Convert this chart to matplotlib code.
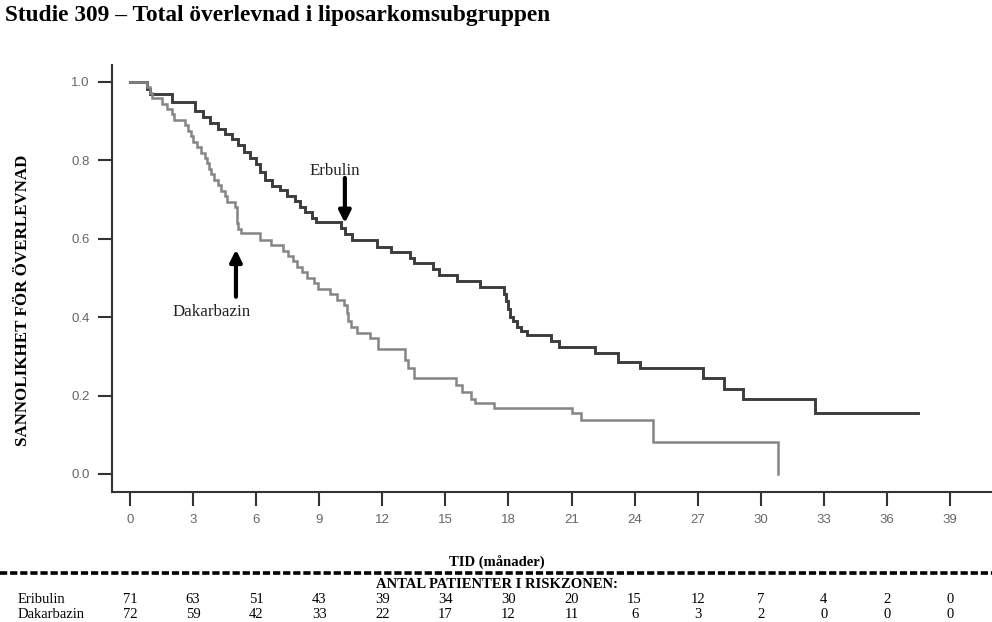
import matplotlib
matplotlib.use("Agg")
import matplotlib.pyplot as plt
from matplotlib.lines import Line2D
import matplotlib.transforms as mtransforms

# ---------------- data ----------------
erb_t = [0, 0.81, 0.95, 2.0, 3.09, 3.47, 3.80, 4.18, 4.52, 4.85, 5.14, 5.42, 5.71, 5.99,
         6.18, 6.42, 6.75, 7.13, 7.47, 7.85, 8.08, 8.32, 8.65, 8.84, 10.03, 10.22, 10.56,
         11.75, 12.41, 13.30, 13.50, 14.40, 14.69, 15.55, 16.64, 17.78, 17.88, 17.97, 18.07,
         18.21, 18.40, 18.59, 18.88, 20.02, 20.40, 22.11, 23.20, 24.25, 27.25, 28.25, 29.15,
         32.57, 37.47]
erb_s = [1.0, 0.982, 0.968, 0.948, 0.925, 0.910, 0.895, 0.880, 0.868, 0.855, 0.840, 0.820,
         0.805, 0.790, 0.770, 0.750, 0.735, 0.725, 0.710, 0.695, 0.680, 0.668, 0.653, 0.643,
         0.628, 0.612, 0.597, 0.580, 0.565, 0.552, 0.538, 0.522, 0.507, 0.493, 0.477, 0.460,
         0.440, 0.420, 0.400, 0.390, 0.375, 0.365, 0.355, 0.340, 0.325, 0.309, 0.286, 0.270,
         0.245, 0.217, 0.191, 0.155, 0.155]

dak_t = [0, 0.81, 0.95, 1.05, 1.5, 1.75, 2.0, 2.1, 2.62, 2.75, 2.9, 3.0, 3.2, 3.4, 3.55,
         3.65, 3.75, 3.85, 4.0, 4.2, 4.35, 4.5, 4.6, 5.0, 5.1, 5.15, 5.3, 6.18, 6.7, 7.3,
         7.5, 7.75, 7.95, 8.2, 8.4, 8.75, 8.95, 9.5, 9.85, 10.2, 10.3, 10.35, 10.5, 10.8,
         11.4, 11.8, 13.1, 13.2, 13.5, 15.5, 15.8, 16.2, 16.4, 17.3, 21.0, 21.45, 24.87,
         30.8]
dak_s = [1.0, 0.986, 0.972, 0.958, 0.944, 0.930, 0.917, 0.903, 0.889, 0.875, 0.861, 0.847,
         0.833, 0.819, 0.806, 0.792, 0.778, 0.764, 0.750, 0.736, 0.722, 0.708, 0.694, 0.680,
         0.639, 0.625, 0.615, 0.597, 0.583, 0.569, 0.556, 0.542, 0.528, 0.514, 0.500, 0.486,
         0.472, 0.458, 0.444, 0.430, 0.410, 0.390, 0.375, 0.360, 0.347, 0.319, 0.290, 0.270,
         0.245, 0.228, 0.210, 0.190, 0.182, 0.168, 0.155, 0.138, 0.082, 0.0]

risk_times = [0, 3, 6, 9, 12, 15, 18, 21, 24, 27, 30, 33, 36, 39]
risk_erb = [71, 63, 51, 43, 39, 34, 30, 20, 15, 12, 7, 4, 2, 0]
risk_dak = [72, 59, 42, 33, 22, 17, 12, 11, 6, 3, 2, 0, 0, 0]

x_ticks = [0, 3, 6, 9, 12, 15, 18, 21, 24, 27, 30, 33, 36, 39]
y_ticks = [0.0, 0.2, 0.4, 0.6, 0.8, 1.0]

title = "Studie 309 – Total överlevnad i liposarkomsubgruppen"
ylabel = "SANNOLIKHET FÖR ÖVERLEVNAD"
xlabel = "TID (månader)"
risk_header = "ANTAL PATIENTER I RISKZONEN:"
row_labels = ["Eribulin", "Dakarbazin"]

# ---------------- figure ----------------
SERIF = ["Liberation Serif", "DejaVu Serif"]
SANS = ["Liberation Sans", "DejaVu Sans"]

fig = plt.figure(figsize=(9.92, 6.22), dpi=100)
ax = fig.add_axes([112 / 992, 1 - 492 / 622, 1 - 112 / 992, (492 - 65) / 622])

ax.step(erb_t, erb_s, where="post", color="#3c3c3c", lw=2.1, solid_joinstyle="miter")
ax.step(dak_t, dak_s, where="post", color="#858585", lw=1.8, solid_joinstyle="miter")

ax.set_xlim(-0.856, 41.0)
ax.set_ylim(-0.046, 1.043)

for s in ["top", "right"]:
    ax.spines[s].set_visible(False)
for s in ["left", "bottom"]:
    ax.spines[s].set_linewidth(1.5)
    ax.spines[s].set_color("#333333")

ax.set_xticks(x_ticks)
ax.set_yticks(y_ticks)
ax.set_yticklabels([f"{v:.1f}" for v in y_ticks])
ax.tick_params(axis="both", direction="out", length=10, width=1.5, color="#333333",
               labelcolor="#666666", labelsize=9.5)
ax.tick_params(axis="y", pad=6)
ax.tick_params(axis="x", pad=6)
for lab in ax.get_xticklabels() + ax.get_yticklabels():
    lab.set_family(SANS)

# annotations
ax.text(9.75, 0.773, "Erbulin", family=SERIF, fontsize=12.2, ha="center", va="center",
        color="#222222")
ax.annotate("", xy=(10.22, 0.640), xytext=(10.22, 0.755),
            arrowprops=dict(arrowstyle="-|>,head_length=0.7,head_width=0.35", lw=3,
                            color="black", shrinkA=0, shrinkB=0))
ax.text(3.9, 0.413, "Dakarbazin", family=SERIF, fontsize=12.2, ha="center", va="center",
        color="#222222")
ax.annotate("", xy=(5.04, 0.572), xytext=(5.04, 0.452),
            arrowprops=dict(arrowstyle="-|>,head_length=0.7,head_width=0.35", lw=3,
                            color="black", shrinkA=0, shrinkB=0))

# title and labels
fig.text(5 / 992, 1 - 15 / 622, title, family=SERIF, fontweight="bold", fontsize=16.8,
         ha="left", va="center", color="black")
fig.text(23 / 992, 1 - 300 / 622, ylabel, family=SERIF, fontweight="bold", fontsize=12.2,
         rotation=90, ha="center", va="center", color="black")
fig.text(497 / 992, 1 - 563 / 622, xlabel, family=SERIF, fontweight="bold", fontsize=10.5,
         ha="center", va="center", color="black")

# dashed separator
fig.add_artist(Line2D([0, 1], [1 - 572.5 / 622] * 2, transform=fig.transFigure,
                      color="black", lw=2.6, linestyle=(0, (2.0, 0.8))))

fig.text(497 / 992, 1 - 584 / 622, risk_header, family=SERIF, fontweight="bold",
         fontsize=10.5, ha="center", va="center", color="black")

# risk table
trans = mtransforms.blended_transform_factory(ax.transData, fig.transFigure)
rows = [(risk_erb, 1 - 599.5 / 622), (risk_dak, 1 - 615 / 622)]
for (vals, yy), lab in zip(rows, row_labels):
    fig.text(18 / 992, yy, lab, family=SERIF, fontsize=10.5, ha="left", va="center",
             color="black")
    for t, v in zip(risk_times, vals):
        ax.text(t, yy, str(v), transform=trans, family=SERIF, fontsize=10.5,
                ha="center", va="center", color="black", clip_on=False)

fig.savefig("out.png", dpi=100)
